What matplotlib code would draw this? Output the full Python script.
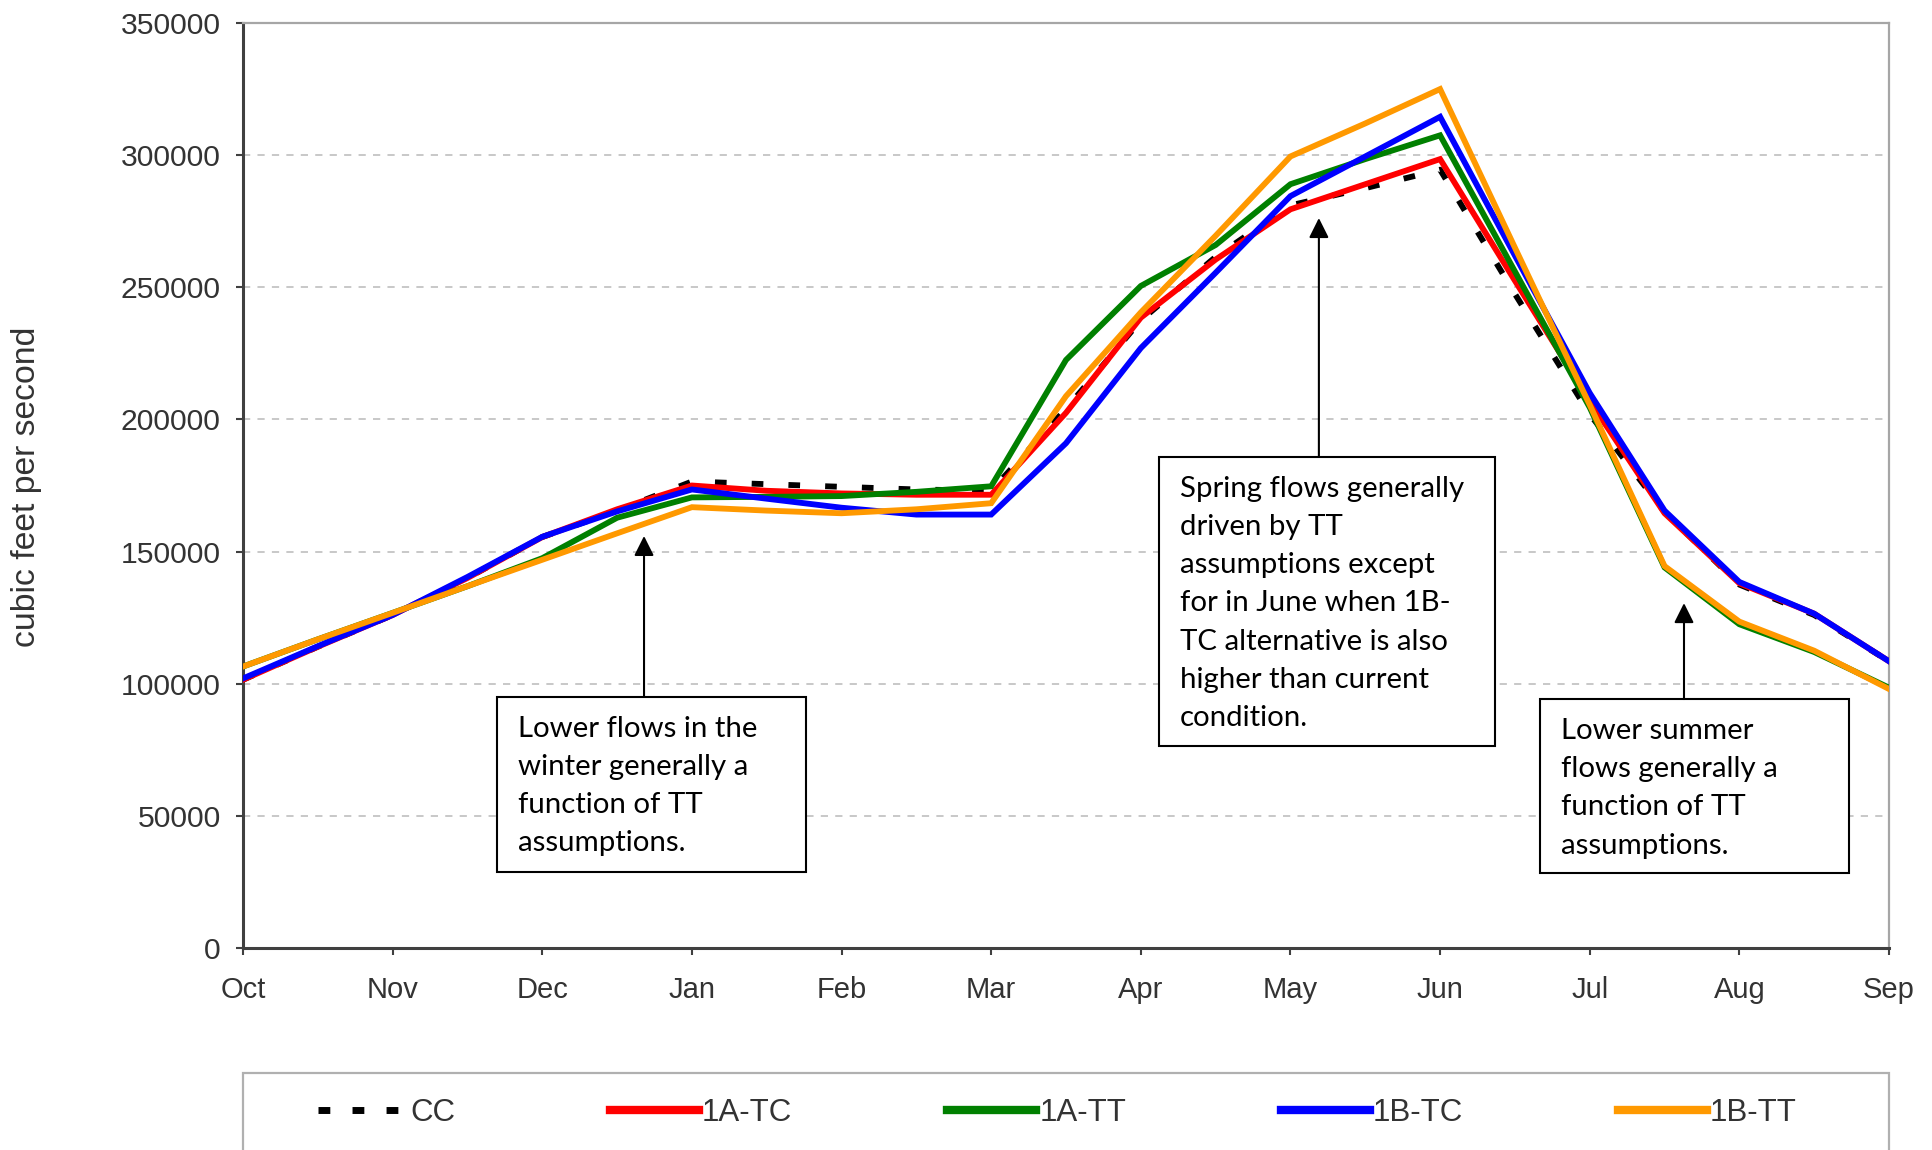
import matplotlib
matplotlib.use("Agg")
import matplotlib.pyplot as plt
from matplotlib.patches import Rectangle
from matplotlib.lines import Line2D

# semi-monthly points, Oct 1 .. Sep 1 (x in months from Oct)
x_pos = [0, 0.5, 1, 1.5, 2, 2.5, 3, 3.5, 4, 4.5, 5, 5.5,
         6, 6.5, 7, 7.5, 8, 8.5, 9, 9.5, 10, 10.5, 11]
months = ['Oct', 'Nov', 'Dec', 'Jan', 'Feb', 'Mar',
          'Apr', 'May', 'Jun', 'Jul', 'Aug', 'Sep']

cc = [101500, 114000, 126000, 140000, 155500, 165500, 176500, 175500, 174500, 173500, 173000, 204000,
      237500, 261500, 281000, 287500, 294500, 247500, 202000, 165000, 137500, 126000, 108500]
a_tc = [101500, 114000, 126000, 140000, 155500, 166000, 175000, 173000, 172000, 171500, 171500, 202500,
        238500, 260500, 279500, 289000, 298500, 252500, 207000, 164500, 138000, 126500, 108500]
a_tt = [106500, 116800, 126800, 136900, 147500, 162800, 170500, 170700, 171000, 172600, 174700, 222500,
        250500, 266000, 289000, 298500, 307500, 256000, 204500, 144000, 122500, 112000, 98500]
b_tc = [102000, 114200, 126000, 140400, 155600, 165200, 173500, 170000, 166600, 164000, 164000, 191000,
        227000, 255500, 284500, 299500, 314500, 262000, 210000, 165500, 138500, 126500, 108500]
b_tt = [106500, 116800, 126800, 136900, 146900, 156900, 166800, 165500, 164500, 166000, 168300, 208800,
        240500, 269500, 299500, 312000, 325000, 265000, 205500, 144500, 123500, 112500, 98000]

series = [
    ('CC', cc, 'black'),
    ('1A-TC', a_tc, '#ff0000'),
    ('1A-TT', a_tt, '#008000'),
    ('1B-TC', b_tc, '#0000ff'),
    ('1B-TT', b_tt, '#ff9900'),
]

notes = [
    ("Lower flows in the\nwinter generally a\nfunction of TT\nassumptions.",
     (1.70, 28800, 2.06, 66200), (2.68, 95000, 155900)),
    ("Spring flows generally\ndriven by TT\nassumptions except\nfor in June when 1B-\n"
     "TC alternative is also\nhigher than current\ncondition.",
     (6.12, 76400, 2.25, 109400), (7.19, 185800, 276200)),
    ("Lower summer\nflows generally a\nfunction of TT\nassumptions.",
     (8.67, 28400, 2.06, 65800), (9.63, 94200, 130500)),
]

W, H = 1933, 1150
fig = plt.figure(figsize=(W / 100, H / 100), dpi=100)
ax = fig.add_axes([243 / W, 1 - 948 / H, (1889 - 243) / W, (948 - 23) / H])

tick_font = 'Liberation Sans'
text_col = '#333333'

for name, vals, col in series:
    if name == 'CC':
        ax.plot(x_pos, vals, color=col, lw=4.2, dashes=(2.0, 4.3), zorder=3)
    else:
        ax.plot(x_pos, vals, color=col, lw=4.2, zorder=3, solid_joinstyle='miter')

ax.set_xlim(0, 11)
ax.set_ylim(0, 350000)
ax.set_xticks(range(12))
ax.set_xticklabels(months, fontsize=21, family=tick_font, color=text_col)
yt = list(range(0, 350001, 50000))
ax.set_yticks(yt)
ax.set_yticklabels([str(v) for v in yt], fontsize=21.7, family=tick_font, color=text_col)
ax.tick_params(axis='both', direction='out', length=5, width=1.5, color='#404040')
ax.tick_params(axis='x', pad=15)
ax.tick_params(axis='y', pad=11)

for v in yt[1:-1]:
    ax.axhline(v, color='#c4c4c4', lw=1.3, dashes=(4, 4), zorder=1)

for s in ['left', 'bottom']:
    ax.spines[s].set_color('#404040')
    ax.spines[s].set_linewidth(2.2)
for s in ['top', 'right']:
    ax.spines[s].set_color('#a6a6a6')
    ax.spines[s].set_linewidth(1.6)

fig.text(27 / W, 1 - 487 / H, 'cubic feet per second', rotation=90, ha='center', va='center',
         fontsize=24.3, family=tick_font, color=text_col)

# annotation boxes
for txt, (bx, by, bw, bh), (ax_x, y0, y1) in notes:
    ax.add_patch(Rectangle((bx, by), bw, bh, facecolor='white', edgecolor='black',
                           lw=1.5, zorder=5))
    ax.text(bx + 0.14, by + bh - 7300, txt, ha='left', va='top', fontsize=21.2,
            family='Lato', color='black', linespacing=1.575, zorder=6)
    ax.annotate('', xy=(ax_x, y1), xytext=(ax_x, y0), zorder=6,
                arrowprops=dict(arrowstyle='-|>,head_length=0.4,head_width=0.2',
                                color='black', lw=1.5, mutation_scale=30,
                                shrinkA=0, shrinkB=0))

# legend frame running off the bottom of the figure
fig.patches.append(Rectangle((243 / W, -0.02), (1889 - 243) / W, 0.02 + 1 - 1073 / H,
                             transform=fig.transFigure, facecolor='none',
                             edgecolor='#b0b0b0', lw=1.6))

handles = []
for name, vals, col in series:
    if name == 'CC':
        handles.append(Line2D([], [], color=col, lw=5, dashes=(1.7, 3.2)))
    else:
        handles.append(Line2D([], [], color=col, lw=6))
labels = [s[0] for s in series]
fig.legend(handles, labels, loc='center left', bbox_to_anchor=(318 / W, 1 - 1113 / H),
           ncol=5, frameon=False, handlelength=2.85, handletextpad=0.1,
           columnspacing=4.95, borderpad=0, borderaxespad=0,
           prop={'family': tick_font, 'size': 22.5})
for t in fig.legends[0].get_texts():
    t.set_color(text_col)

fig.savefig('out.png', dpi=100)
